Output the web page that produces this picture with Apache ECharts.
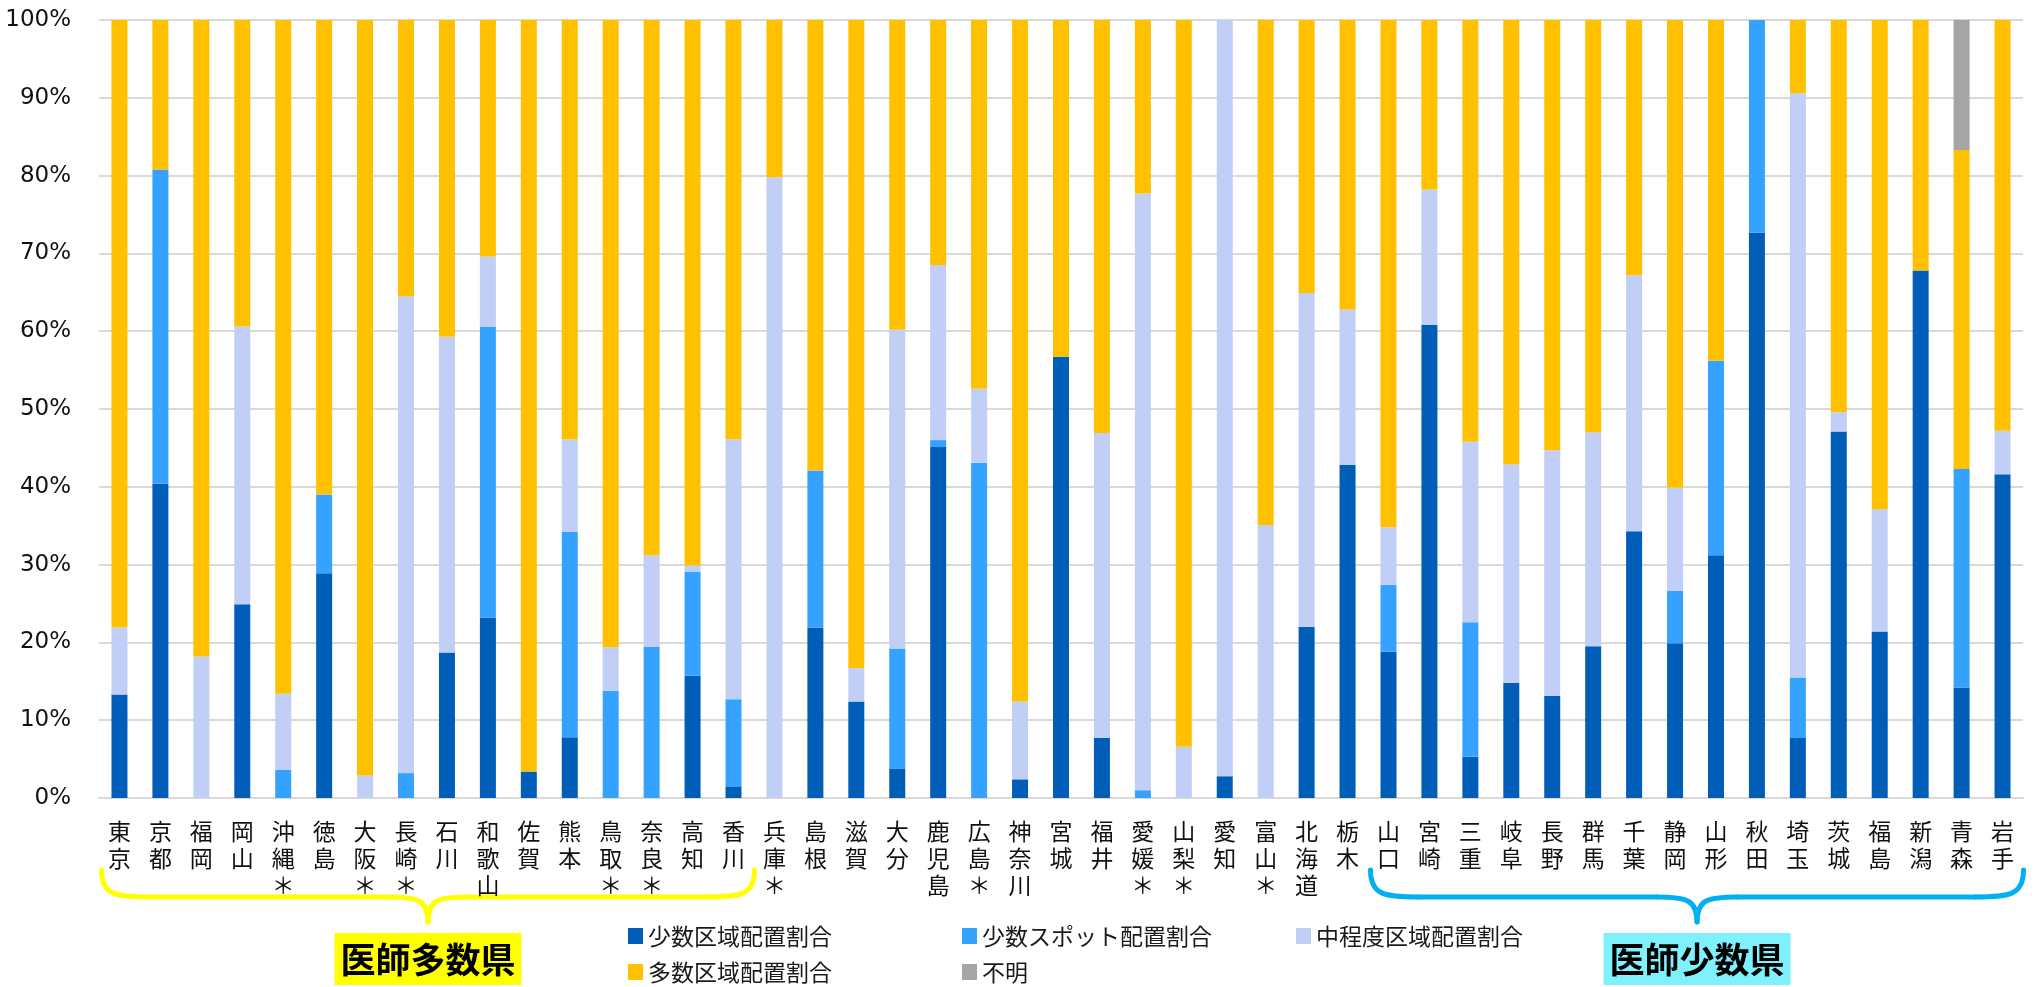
<!DOCTYPE html>
<html>
<head>
<meta charset="utf-8">
<script src="https://cdn.jsdelivr.net/npm/echarts@6/dist/echarts.min.js"></script>
<style>
html,body{margin:0;padding:0;background:#fff;}
#chart{width:2038px;height:987px;}
</style>
</head>
<body>
<div id="chart"></div>
<script>
const categories = ['東京','京都','福岡','岡山','沖縄＊','徳島','大阪＊','長崎＊','石川','和歌山','佐賀','熊本','鳥取＊','奈良＊','高知','香川',
  '兵庫＊','島根','滋賀','大分','鹿児島','広島＊','神奈川','宮城','福井','愛媛＊','山梨＊','愛知','富山＊','北海道','栃木',
  '山口','宮崎','三重','岐阜','長野','群馬','千葉','静岡','山形','秋田','埼玉','茨城','福島','新潟','青森','岩手'];

const fewArea  = [13.3,40.4,0,24.9,0,28.9,0,0,18.7,23.2,3.4,7.8,0,0,15.7,1.5,
  0,21.9,12.4,3.8,45.1,0,2.4,56.7,7.7,0,0,2.8,0,22.0,42.8,
  18.8,60.8,5.3,14.8,13.1,19.5,34.3,19.9,31.2,72.7,7.7,47.1,21.4,67.8,14.2,41.6];
const fewSpot  = [0,40.4,0,0,3.6,10.1,0,3.2,0,37.4,0,26.4,13.8,19.4,13.4,11.2,
  0,20.2,0,15.4,0.9,43.1,0,0,0,1.0,0,0,0,0,0,
  8.6,0,17.3,0,0,0,0,6.7,25.0,27.3,7.8,0,0,0,28.1,0];
const midArea  = [8.6,0,18.2,35.7,9.8,0,2.9,61.3,40.6,9.0,0,11.9,5.6,11.8,0.8,33.4,
  79.8,0,4.3,41.0,22.5,9.5,10.0,0,39.2,76.7,6.6,97.2,35.1,42.9,20.0,
  7.4,17.4,23.2,28.1,31.6,27.5,32.9,13.3,0,0,75.1,2.5,15.7,0,0,5.6];
const manyArea = [78.1,19.2,81.8,39.4,86.6,61.0,97.1,35.5,40.7,30.4,96.6,53.9,80.6,68.8,70.1,53.9,
  20.2,57.9,83.3,39.8,31.5,47.4,87.6,43.3,53.1,22.3,93.4,0,64.9,35.1,37.2,
  65.2,21.8,54.2,57.1,55.3,53.0,32.8,60.1,43.8,0,9.4,50.4,62.9,32.2,41.0,52.8];
const unknown  = [0,0,0,0,0,0,0,0,0,0,0,0,0,0,0,0,
  0,0,0,0,0,0,0,0,0,0,0,0,0,0,0,
  0,0,0,0,0,0,0,0,0,0,0,0,0,0,16.7,0];

const seriesNames = ['少数区域配置割合','少数スポット配置割合','中程度区域配置割合','多数区域配置割合','不明'];
const seriesColors = ['#005EB8','#36A2FF','#C1CFF6','#FFC000','#A5A5A5'];
const seriesData = [fewArea, fewSpot, midArea, manyArea, unknown];

const groupLabels = ['医師多数県','医師少数県'];
const groupRanges = [[0,15],[31,46]];
const yTicks = [0,10,20,30,40,50,60,70,80,90,100];

const CJK = '"Noto Sans CJK JP","Noto Sans CJK SC",sans-serif';
const chart = echarts.init(document.getElementById('chart'), null, {renderer:'canvas'});

const legendText = {fontFamily:CJK,fontSize:23,color:'#1a1a1a',width:304,lineHeight:24};
const option = {
  animation:false,
  backgroundColor:'#ffffff',
  grid:{left:99,right:15,top:20,bottom:189,containLabel:false},
  xAxis:{
    type:'category',
    data:categories,
    axisLine:{show:true,lineStyle:{color:'#d9d9d9',width:2}},
    axisTick:{show:false},
    axisLabel:{
      interval:0,
      margin:20,
      fontFamily:CJK,
      fontSize:23,
      lineHeight:27,
      color:'#111',
      formatter:function(v){return v.split('').join('\n');}
    }
  },
  yAxis:{
    type:'value',
    min:yTicks[0],max:yTicks[yTicks.length-1],interval:10,
    axisLine:{show:false},
    axisTick:{show:false},
    splitLine:{lineStyle:{color:'#d9d9d9',width:2}},
    axisLabel:{
      margin:28,
      fontFamily:'"DejaVu Sans",sans-serif',
      fontSize:23,
      color:'#111',
      formatter:'{value}%'
    }
  },
  legend:[
    {
      data:seriesNames.slice(0,3),
      left:623,top:919,
      orient:'horizontal',
      icon:'rect',itemWidth:15,itemHeight:16,itemGap:10,
      textStyle:legendText,
      selectedMode:false
    },
    {
      data:seriesNames.slice(3,5),
      left:623,top:955,
      orient:'horizontal',
      icon:'rect',itemWidth:15,itemHeight:16,itemGap:10,
      textStyle:legendText,
      selectedMode:false
    }
  ],
  series:seriesNames.map(function(n,i){
    return {
      name:n,
      type:'bar',
      stack:'total',
      barWidth:16,
      data:seriesData[i],
      itemStyle:{color:seriesColors[i]},
      emphasis:{disabled:true}
    };
  })
};
chart.setOption(option);

function braceParts(xL,xR,yTop,yMid,yPt,color){
  const xm=(xL+xR)/2;
  const st={stroke:color,lineWidth:5,fill:null,lineCap:'round'};
  return [
    {type:'bezierCurve',shape:{x1:xL,y1:yTop,cpx1:xL,cpy1:yMid-2,cpx2:xL+14,cpy2:yMid,x2:xL+48,y2:yMid},style:st},
    {type:'line',shape:{x1:xL+48,y1:yMid,x2:xm-40,y2:yMid},style:st},
    {type:'bezierCurve',shape:{x1:xm-40,y1:yMid,cpx1:xm-10,cpy1:yMid,cpx2:xm,cpy2:yMid+3,x2:xm,y2:yPt},style:st},
    {type:'bezierCurve',shape:{x1:xm+40,y1:yMid,cpx1:xm+10,cpy1:yMid,cpx2:xm,cpy2:yMid+3,x2:xm,y2:yPt},style:st},
    {type:'line',shape:{x1:xm+40,y1:yMid,x2:xR-48,y2:yMid},style:st},
    {type:'bezierCurve',shape:{x1:xR,y1:yTop,cpx1:xR,cpy1:yMid-2,cpx2:xR-14,cpy2:yMid,x2:xR-48,y2:yMid},style:st}
  ];
}

function addDecor(){
  const colors=['#FFFF00','#00B0F0'];
  const boxColors=['#FFFF00','#7FF1FD'];
  let g=[];
  groupRanges.forEach(function(r,i){
    const xa = chart.convertToPixel({xAxisIndex:0}, r[0]) - 18;
    const xb = chart.convertToPixel({xAxisIndex:0}, r[1]) + 21;
    g = g.concat(braceParts(xa,xb,870,897,922,colors[i]));
    g.push({type:'text',x:(xa+xb)/2,y:933,
      style:{text:groupLabels[i],font:'bold 35px '+CJK,fill:'#000',
        backgroundColor:boxColors[i],padding:[9,6,8,6],lineHeight:35,align:'center',verticalAlign:'top'}});
  });
  chart.setOption({graphic:g});
}
addDecor();
</script>
</body>
</html>
